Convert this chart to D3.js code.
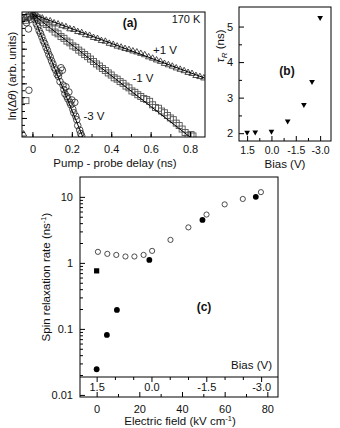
<!DOCTYPE html>
<html><head><meta charset="utf-8">
<script src="https://cdn.jsdelivr.net/npm/d3@7"></script>
<style>
body{margin:0;background:#fff;}
text{font-family:"Liberation Sans",Arial,sans-serif;fill:#111;}
</style></head>
<body>
<svg id="c" width="340" height="428"></svg>
<script>
// ---------- Panel (a): ln(Δθ) vs delay ----------
const triPlus1V = [[-0.045,-3.45],[-0.05,-0.10],[-0.035,-0.07],[-0.02,-0.04],[-0.005,-0.01],[0.005,0.0],[0.01,-0.02],[0.03,-0.07],[0.05,-0.10],[0.07,-0.16],[0.09,-0.18],[0.11,-0.24],[0.13,-0.27],[0.15,-0.32],[0.17,-0.35],[0.19,-0.41],[0.21,-0.43],[0.23,-0.49],[0.25,-0.52],[0.27,-0.58],[0.29,-0.60],[0.31,-0.66],[0.33,-0.69],[0.35,-0.75],[0.37,-0.77],[0.39,-0.83],[0.41,-0.86],[0.43,-0.91],[0.45,-0.94],[0.47,-0.98],[0.49,-1.01],[0.51,-1.05],[0.53,-1.08],[0.55,-1.12],[0.57,-1.16],[0.59,-1.22],[0.61,-1.26],[0.63,-1.31],[0.65,-1.35],[0.67,-1.41],[0.69,-1.45],[0.71,-1.49],[0.73,-1.54],[0.75,-1.58],[0.77,-1.62],[0.79,-1.67],[0.81,-1.70],[0.83,-1.76],[0.85,-1.79],[0.87,-1.83]];
const sqMinus1V = [[-0.033,-2.5],[-0.045,-0.12],[-0.035,-0.18],[-0.025,-0.10],[-0.015,-0.06],[0.01,-0.05],[0.025,-0.11],[0.04,-0.17],[0.055,-0.25],[0.07,-0.30],[0.085,-0.38],[0.10,-0.43],[0.115,-0.52],[0.13,-0.57],[0.145,-0.65],[0.16,-0.70],[0.175,-0.78],[0.19,-0.83],[0.205,-0.92],[0.22,-0.96],[0.235,-1.04],[0.25,-1.10],[0.265,-1.17],[0.28,-1.23],[0.295,-1.30],[0.31,-1.37],[0.325,-1.44],[0.34,-1.50],[0.355,-1.57],[0.37,-1.63],[0.385,-1.70],[0.40,-1.76],[0.415,-1.84],[0.43,-1.88],[0.445,-1.95],[0.46,-2.00],[0.475,-2.08],[0.49,-2.13],[0.505,-2.22],[0.52,-2.26],[0.535,-2.33],[0.55,-2.38],[0.565,-2.44],[0.58,-2.47],[0.595,-2.52],[0.61,-2.62],[0.625,-2.70],[0.64,-2.72],[0.655,-2.80],[0.67,-2.85],[0.685,-2.93],[0.70,-3.00],[0.715,-3.05],[0.73,-3.15],[0.745,-3.22],[0.76,-3.32],[0.775,-3.42],[0.79,-3.50],[0.805,-3.48],[0.815,-3.52]];
const circMinus3V = [[-0.018,-2.2],[-0.02,-0.43],[-0.03,-0.25],[-0.01,-0.15],[0.005,-0.05],[0.012,-0.16],[0.02,-0.28],[0.027,-0.36],[0.034,-0.48],[0.041,-0.56],[0.048,-0.66],[0.055,-0.77],[0.062,-0.85],[0.069,-0.96],[0.076,-1.05],[0.083,-1.16],[0.09,-1.24],[0.097,-1.35],[0.104,-1.44],[0.111,-1.55],[0.118,-1.62],[0.125,-1.74],[0.132,-1.80],[0.14,-1.95],[0.145,-1.55],[0.152,-1.62],[0.135,-1.70],[0.155,-2.05],[0.16,-2.18],[0.165,-2.30],[0.17,-2.10],[0.175,-2.38],[0.18,-2.45],[0.185,-2.25],[0.19,-2.55],[0.195,-2.62],[0.20,-2.48],[0.205,-2.75],[0.21,-2.85],[0.215,-2.55],[0.22,-2.95],[0.225,-3.05],[0.23,-3.22],[0.24,-3.35],[0.245,-3.45],[0.25,-3.52]];
const fitPlus1V  = [[0,0],[0.88,-1.86]];
const fitMinus1V = [[0,0],[0.80,-3.55]];
const fitMinus3V = [[0,0],[0.256,-3.55]];
const delayTicks = [0,0.2,0.4,0.6,0.8];

// ---------- Panel (b): tau_R vs bias ----------
const biasB = [1.5,1.0,0.0,-1.0,-2.0,-2.5,-3.0];
const tauR  = [2.02,2.03,2.05,2.34,2.80,3.45,5.25];
const biasTicksB = [1.5,0.0,-1.5,-3.0];
const tauTicks = [2,3,4,5];

// ---------- Panel (c): spin relaxation rate vs field ----------
const fieldOpen = [0.6,5,9.2,13.5,17.7,22,26,34.6,43,51.5,60,68.5,77];
const rateOpen  = [1.47,1.37,1.32,1.25,1.25,1.32,1.52,2.23,3.45,5.4,7.7,9.3,11.8];
const fieldFilled = [0,4.8,9.5,24.7,49.6,74.6];
const rateFilled  = [0.0245,0.081,0.194,1.11,4.47,10.0];
const fieldSquare = [0];
const rateSquare  = [0.757];
const fieldTicks = [0,20,40,60,80];
const rateTicks = [0.01,0.1,1,10];
const biasTicksC = [1.5,0.0,-1.5,-3.0];

const svg = d3.select("#c");
const fmt1 = d => d.toFixed(1);   // plain hyphen minus, as in the original

// ===== Panel a =====
const ax = d3.scaleLinear().domain([-0.053,0.876]).range([22,205]);
const ay = d3.scaleLinear().domain([-3.55,0.06]).range([137,12]);
svg.append("clipPath").attr("id","clipA").append("rect").attr("x",22).attr("y",12).attr("width",183).attr("height",125);
const gA = svg.append("g");
const gAc = gA.append("g").attr("clip-path","url(#clipA)");
const triSym = d3.symbol().type(d3.symbolTriangle).size(17);
gAc.selectAll("path.tri").data(triPlus1V).join("path").attr("class","tri")
  .attr("d",triSym).attr("transform",d=>`translate(${ax(d[0])},${ay(d[1])+0.7})`)
  .attr("fill","none").attr("stroke","#222").attr("stroke-width",0.8);
gAc.selectAll("rect.sq").data(sqMinus1V).join("rect").attr("class","sq")
  .attr("x",d=>ax(d[0])-3).attr("y",d=>ay(d[1])-3).attr("width",6).attr("height",6)
  .attr("fill","none").attr("stroke","#555").attr("stroke-width",0.9);
gAc.selectAll("circle.ci").data(circMinus3V).join("circle").attr("class","ci")
  .attr("cx",d=>ax(d[0])).attr("cy",d=>ay(d[1])).attr("r",3.3)
  .attr("fill","none").attr("stroke","#222").attr("stroke-width",0.8);
const lineA = d3.line().x(d=>ax(d[0])).y(d=>ay(d[1]));
[fitPlus1V,fitMinus1V,fitMinus3V].forEach(f=>{
  gAc.append("path").attr("d",lineA(f)).attr("fill","none").attr("stroke","#000").attr("stroke-width",1);
});
gA.append("g").attr("transform","translate(0,137)")
  .call(d3.axisBottom(ax).tickValues(d3.range(0,0.85,0.1)).tickSize(-3).tickFormat(""))
  .call(g=>g.select(".domain").remove());
gA.append("g").attr("transform","translate(0,137)")
  .call(d3.axisBottom(ax).tickValues(delayTicks).tickSize(-5).tickPadding(8).tickFormat(d=>d===0?"0":fmt1(d)))
  .call(g=>g.select(".domain").remove())
  .call(g=>g.selectAll("text").attr("font-size",11).attr("font-family","Liberation Sans, Arial"));
gA.append("g").attr("transform","translate(22,0)")
  .call(d3.axisLeft(ay).tickValues(d3.range(-3.4,0.01,0.2)).tickSize(-3).tickFormat(""))
  .call(g=>g.select(".domain").remove());
gA.append("g").attr("transform","translate(22,0)")
  .call(d3.axisLeft(ay).tickValues([0,-1,-2,-3]).tickSize(-5).tickFormat(""))
  .call(g=>g.select(".domain").remove());
gA.append("rect").attr("x",22).attr("y",12).attr("width",183).attr("height",125)
  .attr("fill","none").attr("stroke","#000").attr("stroke-width",1);
gA.append("text").attr("x",115).attr("y",167).attr("text-anchor","middle").attr("font-size",11.5).text("Pump - probe delay (ns)");
const yl = gA.append("text").attr("transform","translate(16,76) rotate(-90)").attr("text-anchor","middle").attr("font-size",11.5);
yl.append("tspan").text("ln(Δ");
yl.append("tspan").attr("font-style","italic").text("θ");
yl.append("tspan").text(") (arb. units)");
gA.append("text").attr("x",130).attr("y",27).attr("text-anchor","middle").attr("font-size",12).attr("font-weight","bold").text("(a)");
gA.append("text").attr("x",186).attr("y",23).attr("text-anchor","middle").attr("font-size",11).text("170 K");
gA.append("text").attr("x",165).attr("y",54).attr("text-anchor","middle").attr("font-size",11.5).text("+1 V");
gA.append("text").attr("x",143).attr("y",82).attr("text-anchor","middle").attr("font-size",11.5).text("-1 V");
gA.append("text").attr("x",94).attr("y",120).attr("text-anchor","middle").attr("font-size",11.5).text("-3 V");

// ===== Panel b =====
const bx = d3.scaleLinear().domain([2.0,-3.67]).range([239,331]);
const by = d3.scaleLinear().domain([1.78,5.55]).range([141,7]);
const gB = svg.append("g");
const downTri = d3.symbol().type(d3.symbolTriangle).size(14);
gB.selectAll("path.dt").data(biasB).join("path").attr("class","dt")
  .attr("d",downTri).attr("transform",(d,i)=>`translate(${bx(d)},${by(tauR[i])}) rotate(180)`)
  .attr("fill","#000");
gB.append("g").attr("transform","translate(0,141)")
  .call(d3.axisBottom(bx).tickValues([0.75,-0.75,-2.25]).tickSize(-3).tickFormat(""))
  .call(g=>g.select(".domain").remove());
gB.append("g").attr("transform","translate(0,141)")
  .call(d3.axisBottom(bx).tickValues(biasTicksB).tickSize(-5).tickPadding(6).tickFormat(fmt1))
  .call(g=>g.select(".domain").remove())
  .call(g=>g.selectAll("text").attr("font-size",10.5).attr("font-family","Liberation Sans, Arial"));
gB.append("g").attr("transform","translate(239,0)")
  .call(d3.axisLeft(by).tickValues([2.5,3.5,4.5]).tickSize(-3).tickFormat(""))
  .call(g=>g.select(".domain").remove());
gB.append("g").attr("transform","translate(239,0)")
  .call(d3.axisLeft(by).tickValues(tauTicks).tickSize(-5).tickPadding(6).tickFormat(d3.format("d")))
  .call(g=>g.select(".domain").remove())
  .call(g=>g.selectAll("text").attr("font-size",11).attr("font-family","Liberation Sans, Arial"));
gB.append("rect").attr("x",239).attr("y",7).attr("width",92).attr("height",134)
  .attr("fill","none").attr("stroke","#000").attr("stroke-width",1);
gB.append("text").attr("x",285).attr("y",168).attr("text-anchor","middle").attr("font-size",11.5).text("Bias (V)");
const tl = gB.append("text").attr("transform","translate(224,46) rotate(-90)").attr("text-anchor","middle").attr("font-size",11.5);
tl.append("tspan").attr("font-style","italic").text("τ");
tl.append("tspan").attr("font-style","italic").attr("font-size",8).attr("dy",3).text("R");
tl.append("tspan").attr("dy",-3).text(" (ns)");
gB.append("text").attr("x",287).attr("y",75).attr("text-anchor","middle").attr("font-size",12).attr("font-weight","bold").text("(b)");

// ===== Panel c =====
const cx = d3.scaleLinear().domain([-7.8,85]).range([80,278]);
const cy = d3.scaleLog().domain([0.0093,20]).range([397,177]);
const biasToField = v => (1.5 - v) * 17.13;
const gC = svg.append("g");
const minorLog = [];
[0.01,0.1,1,10].forEach(dec=>{ for(let k=2;k<=9;k++){ const v=dec*k; if(v<20) minorLog.push(v);} });
gC.append("g").attr("transform","translate(80,0)")
  .call(d3.axisLeft(cy).tickValues(minorLog).tickSize(-3).tickFormat(""))
  .call(g=>g.select(".domain").remove());
gC.append("g").attr("transform","translate(80,0)")
  .call(d3.axisLeft(cy).tickValues(rateTicks).tickSize(-5).tickPadding(7).tickFormat(d=>d>=1?d3.format("d")(d):String(d)))
  .call(g=>g.select(".domain").remove())
  .call(g=>g.selectAll("text").attr("font-size",11).attr("font-family","Liberation Sans, Arial"));
gC.append("g").attr("transform","translate(0,397)")
  .call(d3.axisBottom(cx).tickValues([10,30,50,70]).tickSize(-3).tickFormat(""))
  .call(g=>g.select(".domain").remove());
gC.append("g").attr("transform","translate(0,397)")
  .call(d3.axisBottom(cx).tickValues(fieldTicks).tickSize(-5).tickPadding(8).tickFormat(d3.format("d")))
  .call(g=>g.select(".domain").remove())
  .call(g=>g.selectAll("text").attr("font-size",11).attr("font-family","Liberation Sans, Arial"));
gC.append("line").attr("x1",80).attr("x2",278).attr("y1",377).attr("y2",377).attr("stroke","#000");
const biasScale = d3.scaleLinear().domain([1.5,-3.0]).range([cx(biasToField(1.5)),cx(biasToField(-3.0))]);
gC.append("g").attr("transform","translate(0,377)")
  .call(d3.axisBottom(biasScale).tickValues([1.0,0.5,-0.5,-1.0,-2.0,-2.5]).tickSize(3).tickFormat(""))
  .call(g=>g.select(".domain").remove());
gC.append("g").attr("transform","translate(0,377)")
  .call(d3.axisBottom(biasScale).tickValues(biasTicksC).tickSize(5).tickPadding(1).tickFormat(fmt1))
  .call(g=>g.select(".domain").remove())
  .call(g=>g.selectAll("text").attr("font-size",11).attr("font-family","Liberation Sans, Arial"));
gC.append("text").attr("x",272).attr("y",369).attr("text-anchor","end").attr("font-size",11.5).text("Bias (V)");
gC.selectAll("circle.op").data(fieldOpen).join("circle").attr("class","op")
  .attr("cx",d=>cx(d)).attr("cy",(d,i)=>cy(rateOpen[i])).attr("r",2.6)
  .attr("fill","#fff").attr("stroke","#222").attr("stroke-width",0.8);
gC.selectAll("circle.fi").data(fieldFilled).join("circle").attr("class","fi")
  .attr("cx",d=>cx(d)).attr("cy",(d,i)=>cy(rateFilled[i])).attr("r",2.9)
  .attr("fill","#000");
gC.selectAll("rect.fs").data(fieldSquare).join("rect").attr("class","fs")
  .attr("x",d=>cx(d)-2.6).attr("y",(d,i)=>cy(rateSquare[i])-2.6).attr("width",5.2).attr("height",5.2)
  .attr("fill","#000");
gC.append("rect").attr("x",80).attr("y",177).attr("width",198).attr("height",220)
  .attr("fill","none").attr("stroke","#000").attr("stroke-width",1);
gC.append("text").attr("x",204).attr("y",311).attr("text-anchor","middle").attr("font-size",12).attr("font-weight","bold").text("(c)");
const cl = gC.append("text").attr("transform","translate(50,277) rotate(-90)").attr("text-anchor","middle").attr("font-size",11.5);
cl.append("tspan").text("Spin relaxation rate (ns");
cl.append("tspan").attr("font-size",7.5).attr("dy",-4).text("-1");
cl.append("tspan").attr("dy",4).text(")");
const xl = gC.append("text").attr("x",180).attr("y",425).attr("text-anchor","middle").attr("font-size",11.5);
xl.append("tspan").text("Electric field (kV cm");
xl.append("tspan").attr("font-size",7.5).attr("dy",-4).text("-1");
xl.append("tspan").attr("dy",4).text(")");
</script>
</body></html>
